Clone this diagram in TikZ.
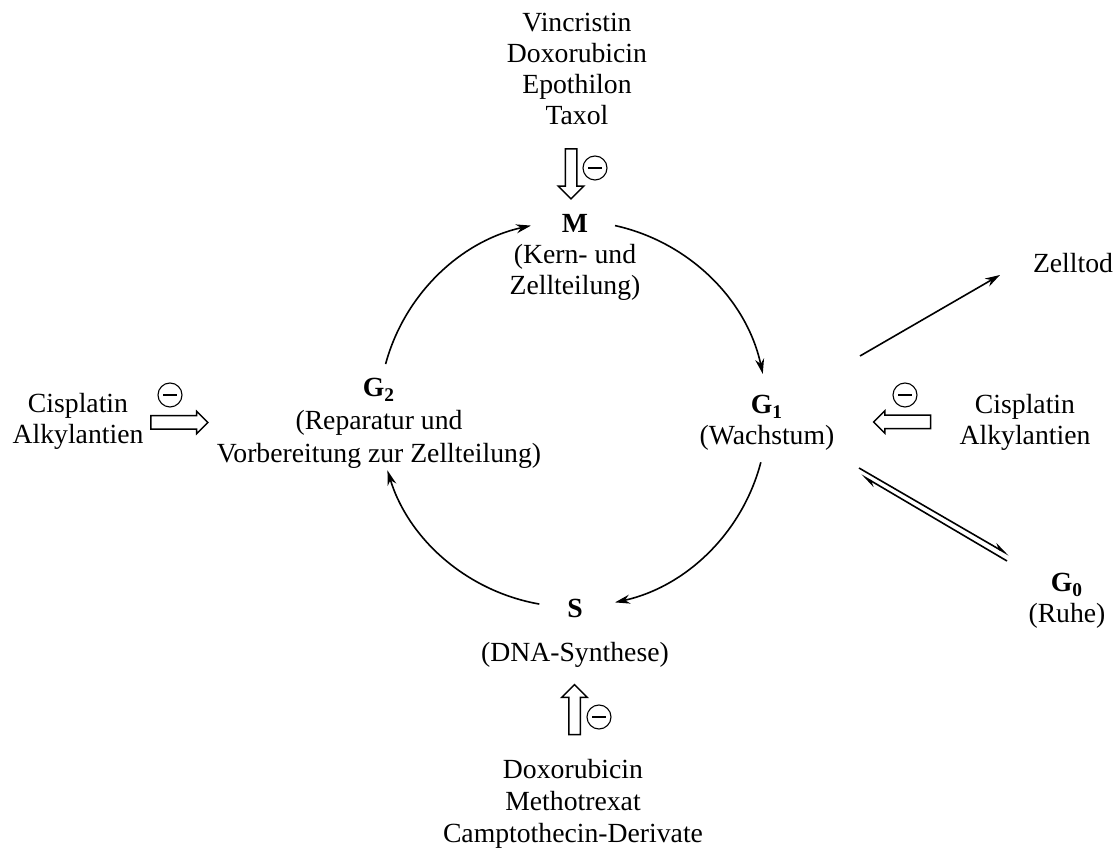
\documentclass[tikz,border=0pt]{standalone}
\usepackage{fontspec}
\setmainfont{Liberation Serif}
\usepackage{tikz}
\usetikzlibrary{arrows.meta}
\usetikzlibrary{shapes.arrows}
\tikzset{phase/.style={align=center, anchor=base, inner sep=0pt},
         drug/.style={align=center, anchor=base, inner sep=0pt},
         cyc/.style={line width=0.8pt, -{Stealth[length=7.5pt,width=4.5pt]}},
         hollow/.style={single arrow, draw, line width=0.75pt, inner sep=2.5pt,
                        minimum width=0pt, minimum height=25pt, single arrow head extend=3.5pt},
         hollowh/.style={hollow, inner sep=3pt, minimum height=28.5pt, single arrow head extend=2.2pt},
         inhib/.style={circle, draw, line width=0.55pt, inner sep=0pt, minimum size=12pt,
                       path picture={\draw[line width=0.55pt] ([xshift=-3.3pt]path picture bounding box.center)
                                     -- ([xshift=3.3pt]path picture bounding box.center);}}}

\begin{document}
\begin{tikzpicture}[x=0.5pt, y=-0.5pt, font=\fontsize{13.85pt}{15.5pt}\selectfont]
        \useasboundingbox (0,0) rectangle (1115,849);

        % Phases (base = last line)
        \node[phase] (M) at (575,295) {\textbf{M}\\(Kern- und\\Zellteilung)};
        \node[phase] (G1) at (767,445) {\textbf{G\textsubscript{1}}\\(Wachstum)};
        \node[phase] (G2) at (379,463) {\textbf{G\textsubscript{2}}\\[1pt](Reparatur und\\[1pt]Vorbereitung zur Zellteilung)};
        \node[phase] (S) at (575,662) {\textbf{S}\\[6.5pt](DNA-Synthese)};
        \node[phase] (G0) at (1067,623) {\textbf{G\textsubscript{0}}\\(Ruhe)};
        \node[phase] (tod) at (1073,273) {Zelltod};

        % Cycle
        \coordinate (cyc) at (573,414);
        \draw[cyc] ([shift={(195:194 and 193)}]cyc) arc[start angle=195, end angle=257.5, x radius=194, y radius=193];
        \draw[cyc] ([shift={(282.5:194 and 193)}]cyc) arc[start angle=282.5, end angle=348, x radius=194, y radius=193];
        \draw[cyc] ([shift={(14.5:194 and 193)}]cyc) arc[start angle=14.5, end angle=77.5, x radius=194, y radius=193];
        \draw[cyc] ([shift={(100:194 and 193)}]cyc) arc[start angle=100, end angle=163, x radius=194, y radius=193];

        % Drugs
        \node[drug] (drugsM) at (577,125) {Vincristin\\Doxorubicin\\Epothilon\\Taxol};
        \node[drug, font=\fontsize{13.85pt}{16.2pt}\selectfont] (drugsS) at (573,843) {Doxorubicin\\Methotrexat\\Camptothecin-Derivate};
        \node[drug] (cisG2) at (78,444) {Cisplatin\\Alkylantien};
        \node[drug] (cisG1) at (1025,445) {Cisplatin\\Alkylantien};

        \node[hollow, rotate=-90] (hollowM) at (571,171) {};
        \node[hollow, rotate=90] (hollowS) at (574.5,712.5) {};
        \node[hollowh] (hollowG2) at (176,422.5) {};
        \node[hollowh, rotate=180] (hollowG1) at (905.5,422) {};

        \node[inhib] (inhibM) at (595,168) {};
        \node[inhib] (inhibS) at (599,717) {};
        \node[inhib] (inhibG2) at (170,395) {};
        \node[inhib] (inhibG1) at (905,395) {};

        % Zelltod and G0
        \coordinate (todA) at (860,356);
        \coordinate (todB) at (1000,275);
        \draw[cyc] (todA) -- (todB);

        \coordinate (restA) at (859,468);
        \coordinate (restB) at (1009,555);
        \coordinate (restC) at (861,475);
        \coordinate (restD) at (1007,561);
        \draw[line width=0.8pt, -{Stealth[harpoon, length=7pt, width=4pt]}] (restA) -- (restB);
        \draw[line width=0.8pt, -{Stealth[harpoon, length=7pt, width=4pt]}] (restD) -- (restC);

\end{tikzpicture}
\end{document}
